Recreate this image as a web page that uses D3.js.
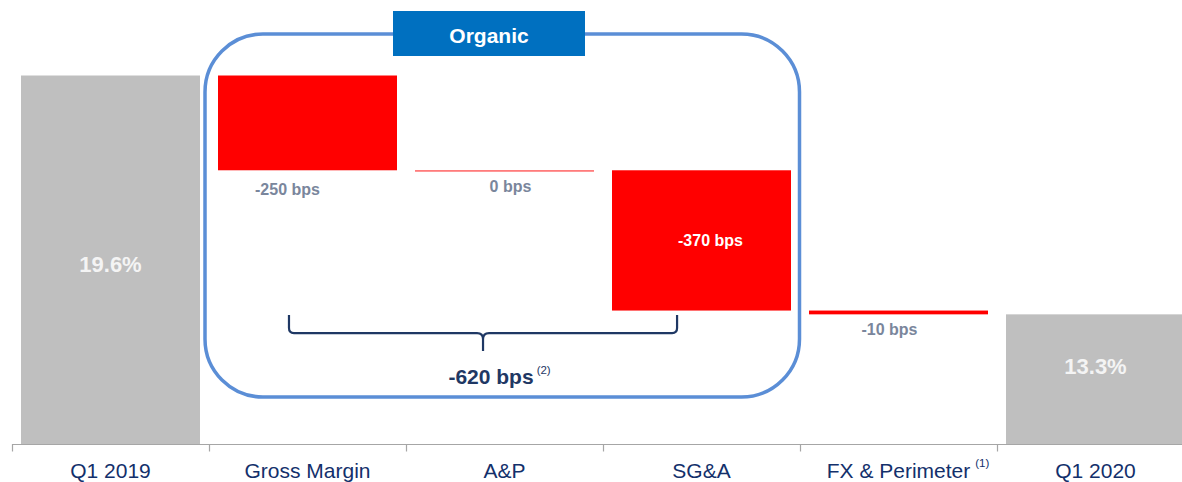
<!DOCTYPE html>
<html>
<head>
<meta charset="utf-8">
<script src="https://cdn.jsdelivr.net/npm/d3@7"></script>
<style>
  html, body { margin: 0; padding: 0; background: #ffffff; }
  svg { display: block; }
  text { font-family: "Liberation Sans", Arial, sans-serif; }
</style>
</head>
<body>
<svg id="chart" width="1182" height="482"></svg>
<script>
// ---------------- DATA ----------------
const categories = ["Q1 2019", "Gross Margin", "A&P", "SG&A", "FX & Perimeter", "Q1 2020"];
const values = [19.6, -2.5, 0.0, -3.7, -0.1, 13.3];           // % for totals, % points for deltas
const kinds = ["total", "delta", "delta", "delta", "delta", "total"];
const valueLabels = ["19.6%", "-250 bps", "0 bps", "-370 bps", "-10 bps", "13.3%"];
const categoryFootnotes = ["", "", "", "", "(1)", ""];
const organicCategories = ["Gross Margin", "A&P", "SG&A"];
const organicTitle = "Organic";
const organicTotalLabel = "-620 bps";
const organicFootnote = "(2)";

// ---------------- LAYOUT ----------------
const W = 1182, H = 482;
const svg = d3.select("#chart");

const x = d3.scaleBand()
  .domain(categories)
  .range([12, 1194])
  .paddingInner(0.0914)
  .paddingOuter(0.0457);

const y = d3.scaleLinear()
  .domain([9.88, 19.6])
  .range([444, 75.5]);

const gap = x.step() * x.paddingInner();
const boundary = c => x(c) - gap / 2;            // left edge of category slot

// waterfall
let running = 0;
const bars = categories.map((c, i) => {
  let start, end;
  if (kinds[i] === "total") { start = y.domain()[0]; end = values[i]; running = values[i]; }
  else { start = running; end = running + values[i]; running = end; }
  return { cat: c, i, kind: kinds[i], start, end, value: values[i] };
});

// label nudges (layout only)
const labelDX = [0, -20, 6, 9, -9, 0];
const labelDY = [12.6, 24.7, 22, 0, 21, -4.7];

// ---------------- ORGANIC FRAME ----------------
const gmSlot = boundary(organicCategories[0]);
const fxSlot = boundary("FX & Perimeter");
svg.append("rect")
  .attr("x", gmSlot - 4)
  .attr("y", 34)
  .attr("width", (fxSlot - 0.5) - (gmSlot - 4))
  .attr("height", 397 - 34)
  .attr("rx", 58).attr("ry", 58)
  .attr("fill", "none")
  .attr("stroke", "#5B8ED6")
  .attr("stroke-width", 3.5);

// Organic title box
const tb = svg.append("g");
tb.append("rect")
  .attr("x", 393).attr("y", 11)
  .attr("width", 192).attr("height", 45)
  .attr("fill", "#0070C0");
tb.append("text")
  .attr("x", 489).attr("y", 43)
  .attr("text-anchor", "middle")
  .attr("font-size", 21).attr("font-weight", "bold")
  .attr("fill", "#ffffff")
  .text(organicTitle);

// ---------------- BARS ----------------
svg.append("g").selectAll("rect")
  .data(bars)
  .join("rect")
  .attr("x", d => x(d.cat))
  .attr("width", x.bandwidth())
  .attr("y", d => Math.min(y(d.start), y(d.end)))
  .attr("height", d => Math.max(Math.abs(y(d.start) - y(d.end)), 1.3))
  .attr("fill", d => d.kind === "total" ? "#BFBFBF" : (d.value === 0 ? "#FF4B4B" : "#FF0000"));

// value labels
svg.append("g").selectAll("text")
  .data(bars)
  .join("text")
  .attr("x", d => x(d.cat) + x.bandwidth() / 2 + labelDX[d.i])
  .attr("y", d => {
    const top = Math.min(y(d.start), y(d.end));
    const bot = Math.max(y(d.start), y(d.end));
    const inside = d.kind === "total" || (bot - top) > 100;
    if (inside) return (top + bot) / 2 + labelDY[d.i] + (d.kind === "total" ? 0 : 6);
    return bot + labelDY[d.i];
  })
  .attr("text-anchor", "middle")
  .attr("font-weight", "bold")
  .attr("font-size", d => d.kind === "total" ? 22 : 16)
  .attr("fill", d => {
    const h = Math.abs(y(d.start) - y(d.end));
    if (d.kind === "total") return "#F4F4F4";
    return h > 100 ? "#ffffff" : "#7A869C";
  })
  .text(d => valueLabels[d.i]);

// ---------------- BRACE ----------------
const sgaBottom = y(bars[categories.indexOf("SG&A")].end);
const bL = boundary("Gross Margin") + 0.406 * x.step();
const bR = boundary("SG&A") + 0.376 * x.step();
const bM = (bL + bR) / 2;
const yTop = sgaBottom + 4.5, yLine = sgaBottom + 22.5, yTip = sgaBottom + 40.5;
const brace = d3.path();
brace.moveTo(bL, yTop);
brace.lineTo(bL, yLine - 5);
brace.quadraticCurveTo(bL, yLine, bL + 5, yLine);
brace.lineTo(bM - 6, yLine);
brace.quadraticCurveTo(bM, yLine, bM, yLine + 6);
brace.lineTo(bM, yTip);
brace.moveTo(bM, yLine + 6);
brace.quadraticCurveTo(bM, yLine, bM + 6, yLine);
brace.lineTo(bR - 5, yLine);
brace.quadraticCurveTo(bR, yLine, bR, yLine - 5);
brace.lineTo(bR, yTop);
svg.append("path")
  .attr("d", brace.toString())
  .attr("fill", "none")
  .attr("stroke", "#1F3864")
  .attr("stroke-width", 2.2);

const tot = svg.append("text")
  .attr("x", bM + 8).attr("y", 384.3)
  .attr("text-anchor", "middle")
  .attr("font-size", 21).attr("font-weight", "bold")
  .attr("fill", "#1F3864")
  .text(organicTotalLabel);
const totEnd = bM + 8 + tot.node().getComputedTextLength() / 2;
svg.append("text")
  .attr("x", totEnd + 3).attr("y", 374)
  .attr("font-size", 11.5)
  .attr("fill", "#1F3864")
  .text(organicFootnote);

// ---------------- AXIS ----------------
const axisG = svg.append("g");
axisG.append("line")
  .attr("x1", 12).attr("x2", W)
  .attr("y1", 444.5).attr("y2", 444.5)
  .attr("stroke", "#A6A6A6").attr("stroke-width", 1.2);
axisG.selectAll("line.tick")
  .data(categories)
  .join("line")
  .attr("class", "tick")
  .attr("x1", d => Math.round(boundary(d)) + 0.5)
  .attr("x2", d => Math.round(boundary(d)) + 0.5)
  .attr("y1", 444).attr("y2", 451.5)
  .attr("stroke", "#A6A6A6").attr("stroke-width", 1.2);

const catLabels = axisG.selectAll("text.cat")
  .data(categories)
  .join("text")
  .attr("class", "cat")
  .attr("x", d => x(d) + x.bandwidth() / 2)
  .attr("y", 478)
  .attr("text-anchor", "middle")
  .attr("font-size", 21)
  .attr("fill", "#13306B")
  .text(d => d);

catLabels.each(function(d, i) {
  if (!categoryFootnotes[i]) return;
  const len = this.getComputedTextLength();
  axisG.append("text")
    .attr("x", x(d) + x.bandwidth() / 2 + len / 2 + 5)
    .attr("y", 467)
    .attr("font-size", 11.5)
    .attr("fill", "#13306B")
    .text(categoryFootnotes[i]);
});
</script>
</body>
</html>
